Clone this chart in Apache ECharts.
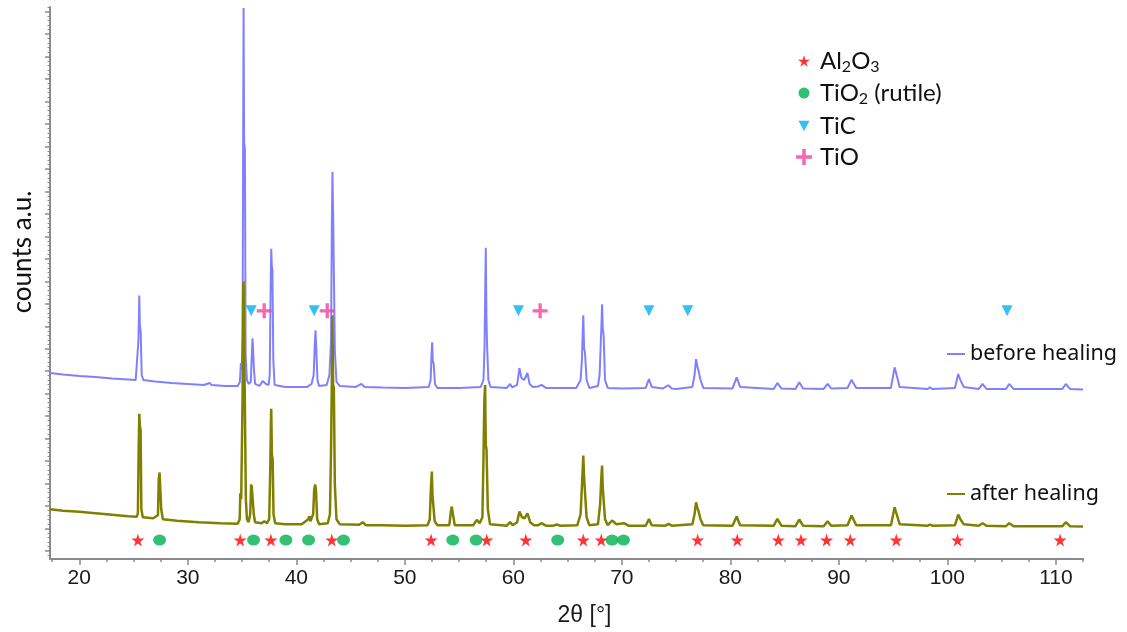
<!DOCTYPE html>
<html>
<head>
<meta charset="utf-8">
<script src="https://cdn.jsdelivr.net/npm/echarts@6/dist/echarts.min.js"></script>
<style>
  html, body { margin: 0; padding: 0; background: #fff; }
  #chart { width: 1127px; height: 632px; }
</style>
</head>
<body>
<div id="chart"></div>
<script>
// x tick labels (2theta, degrees)
const majorX = [20, 30, 40, 50, 60, 70, 80, 90, 100, 110]

// before healing, [2theta, counts a.u.]
const beforeHealing = [
  [17.3, 187], [18.5, 185.5], [20, 184], [21.5, 183], [23, 181.5], [24.5, 180.5], [25.2, 180],
  [25.38, 182], [25.45, 220], [25.53, 265], [25.58, 235], [25.66, 228], [25.75, 185], [25.9, 180],
  [27, 178.5], [28.5, 177], [30, 176], [31.5, 175], [32.0, 177], [32.2, 175], [33.5, 174], [34.6, 174],
  [34.8, 178], [34.89, 197], [34.98, 190],
  [35.05, 230], [35.1, 419], [35.14, 554], [35.19, 419], [35.26, 412], [35.33, 205], [35.45, 180], [35.6, 176],
  [35.8, 178], [35.9, 205], [35.96, 222], [36.02, 210], [36.1, 190], [36.2, 176],
  [36.6, 174], [36.9, 179], [37.05, 180], [37.2, 176], [37.45, 175],
  [37.55, 185], [37.62, 260], [37.69, 312], [37.74, 295], [37.8, 290], [37.88, 200], [38.0, 175],
  [39, 173], [40, 173], [41.0, 173], [41.4, 176],
  [41.6, 185], [41.7, 215], [41.77, 230], [41.84, 212], [41.95, 180], [42.1, 174],
  [42.8, 175], [43.05, 185],
  [43.2, 220], [43.28, 342], [43.33, 389], [43.4, 342], [43.47, 340], [43.55, 210], [43.7, 178], [44.0, 174],
  [45.5, 173], [46.0, 176], [46.13, 177], [46.3, 173], [48, 172.5], [50, 172], [52.2, 173],
  [52.38, 180], [52.46, 205], [52.52, 218], [52.58, 199], [52.66, 196], [52.78, 176], [53, 172],
  [55, 172], [57.0, 173], [57.25, 180],
  [57.35, 215], [57.42, 280], [57.46, 313], [57.52, 245], [57.58, 215], [57.7, 180], [57.9, 173],
  [59.4, 172], [59.7, 176], [59.9, 172.5],
  [60.35, 175], [60.56, 192], [60.75, 182], [61.0, 180], [61.3, 187], [61.5, 176], [61.8, 173],
  [62.3, 173.5], [62.6, 175], [63.0, 172], [65.8, 172], [66.2, 180],
  [66.32, 200], [66.4, 230], [66.45, 245], [66.52, 212], [66.6, 208], [66.75, 180], [67.0, 172],
  [67.8, 174],
  [67.95, 185], [68.05, 215], [68.12, 235], [68.18, 256], [68.24, 232], [68.32, 225], [68.45, 180], [68.7, 172],
  [70, 171.5], [72.2, 172], [72.5, 181], [72.75, 173], [73.8, 171.5], [74.28, 174.7], [74.6, 171.5], [75.0, 171], [76.5, 173],
  [76.7, 185], [76.84, 201], [76.95, 194], [77.05, 190], [77.25, 180], [77.5, 172],
  [80.2, 171.5], [80.58, 182.7], [80.9, 173], [84.0, 171], [84.33, 177], [84.7, 171.5],
  [86.0, 171], [86.35, 177.7], [86.7, 171.5], [88.6, 171], [88.96, 176], [89.3, 171.5],
  [90.8, 172], [91.17, 180.3], [91.6, 172], [94.8, 172], [95.14, 192.7], [95.3, 186], [95.6, 173],
  [98.2, 171], [98.39, 172.7], [98.6, 171], [100.7, 172], [101.0, 186], [101.2, 180], [101.5, 173],
  [102.9, 171], [103.24, 176], [103.6, 171], [105.4, 171], [105.7, 176], [106.1, 171],
  [110.6, 171], [110.92, 176], [111.3, 171], [112.5, 170.5]
]

// after healing, [2theta, counts a.u.]
const afterHealing = [
  [17.3, 50], [18.5, 48.5], [20, 47.5], [21.5, 46], [23, 44.5], [24.5, 43], [25.3, 42.5],
  [25.4, 46], [25.47, 110], [25.53, 146], [25.58, 134], [25.65, 130], [25.72, 50], [25.85, 42],
  [26.8, 41], [27.25, 44], [27.32, 80], [27.4, 87], [27.47, 85], [27.55, 50], [27.7, 40],
  [29, 38.5], [31, 37], [33, 36], [34.6, 35.5],
  [34.78, 40], [34.84, 66], [34.92, 60],
  [35.05, 165], [35.1, 260], [35.14, 279], [35.19, 220], [35.25, 165], [35.35, 60], [35.45, 40], [35.6, 37],
  [35.75, 45], [35.84, 75], [35.9, 72], [35.98, 71], [36.08, 45], [36.2, 37],
  [36.8, 36], [37.05, 38], [37.3, 36], [37.5, 40],
  [37.6, 90], [37.66, 140], [37.69, 151], [37.75, 105], [37.82, 100], [37.9, 45], [38.05, 36],
  [39, 35], [40.5, 35], [41.1, 40], [41.2, 43], [41.3, 38], [41.55, 45],
  [41.65, 70], [41.74, 75], [41.82, 68], [41.92, 40], [42.1, 35],
  [42.9, 36], [43.1, 45],
  [43.2, 110], [43.27, 175], [43.33, 245], [43.39, 175], [43.46, 172], [43.55, 75], [43.7, 40], [44.0, 35],
  [45.8, 34.5], [46.13, 37], [46.4, 34], [48, 34], [50, 33.5], [52.1, 34], [52.3, 40],
  [52.4, 70], [52.49, 88], [52.55, 64], [52.62, 62], [52.75, 38], [53, 34],
  [54.1, 34], [54.25, 48], [54.33, 52.7], [54.42, 46], [54.6, 34],
  [56.3, 34], [56.63, 39.3], [56.9, 36], [57.15, 42],
  [57.25, 102], [57.33, 160], [57.4, 175], [57.46, 115], [57.53, 110], [57.65, 50], [57.85, 35],
  [59.4, 33.5], [59.7, 37], [59.95, 34], [60.35, 37], [60.56, 47.7], [60.8, 42], [61.05, 41], [61.3, 46], [61.55, 37], [61.9, 34],
  [62.3, 34], [62.6, 36], [63, 33.5], [63.7, 33.5], [64.0, 34.7], [64.3, 33.5], [65.9, 34], [66.2, 45],
  [66.35, 80], [66.45, 104], [66.52, 82], [66.6, 80], [66.75, 42], [67.0, 34],
  [67.8, 35],
  [68.0, 55], [68.1, 80], [68.18, 94], [68.24, 72], [68.32, 70], [68.45, 40], [68.7, 34],
  [69.1, 38.7], [69.5, 35], [70.2, 36], [70.6, 33.5], [72.2, 33.5], [72.5, 40.3], [72.75, 34],
  [74.0, 33.5], [74.3, 35.3], [74.6, 33.5], [76.5, 35],
  [76.7, 45], [76.84, 57], [76.95, 52], [77.05, 48.7], [77.25, 40], [77.5, 34],
  [80.2, 33.5], [80.58, 42.7], [80.9, 34], [84.0, 33.5], [84.33, 40.3], [84.7, 33.5],
  [86.0, 33], [86.35, 39.7], [86.7, 33.5], [88.6, 33], [88.96, 38], [89.3, 33.5],
  [90.8, 34], [91.17, 43.7], [91.6, 34], [94.8, 34], [95.14, 52], [95.3, 46], [95.6, 35],
  [98.2, 33.5], [98.39, 34.7], [98.6, 33.5], [100.7, 34], [101.0, 44.7], [101.2, 40], [101.5, 35],
  [102.9, 33.5], [103.24, 36], [103.6, 33.5], [105.4, 33], [105.7, 36], [106.1, 33],
  [110.6, 33], [110.92, 37], [111.3, 33], [112.5, 32.7]
]

// phase reflections (2theta) and the height of their marker row
const al2o3Pos = [25.4, 34.83, 37.66, 43.27, 52.42, 57.55, 61.15, 66.45, 68.1, 76.99, 80.64, 84.42, 86.51, 88.87, 91.05, 95.29, 100.94, 110.39]
const tio2Pos = [27.4, 36.06, 39.04, 41.13, 44.35, 54.42, 56.57, 64.09, 69.1, 70.15]
const ticPos = [35.84, 41.65, 60.47, 72.5, 76.07, 105.5]
const tioPos = [37.04, 42.85, 62.47]
const lowRow = 19
const highRow = 249.5

const STAR = 'path://M50,0L61,35L98,35L68,57L79,91L50,70L21,91L32,57L2,35L39,35Z'
const PLUS = 'path://M39,0H61V39H100V61H61V100H39V61H0V39H39Z'
const TRI_DOWN = 'path://M0,0H100L50,95Z'

const axisGrey = '#8a8a8a'
const labelFont = 'Lato'

// tick positions (decoration only, axis has no labels)
const yMajor = []
const yMinor = []
for (let v = 8; v < 555; v += 22.6) yMajor.push(v)
for (let v = 3.48; v < 555; v += 4.52) {
  if (!yMajor.some(m => Math.abs(m - v) < 0.5)) yMinor.push(v)
}
const xMinor = []
for (let v = 17.5; v <= 112.5; v += 2.5) {
  if (v % 10 !== 0) xMinor.push(v)
}

const rich = {
  n: { fontSize: 24, lineHeight: 28, fontFamily: labelFont, color: '#111' },
  s: { fontSize: 16, lineHeight: 16, fontFamily: labelFont, color: '#111', verticalAlign: 'bottom' },
}
const legendText = {
  'Al2O3': '{n|Al}{s|2}{n|O}{s|3}',
  'TiO2 (rutile)': '{n|TiO}{s|2}{n| (rutile)}',
  'TiC': '{n|TiC}',
  'TiO': '{n|TiO}',
}

function phaseLegend(name, icon, top, w, h) {
  return {
    data: [{ name, icon }],
    orient: 'vertical',
    left: 804 - w / 2,
    top,
    itemWidth: w,
    itemHeight: h,
    padding: 0,
    formatter: n => legendText[n],
    textStyle: { rich, padding: [0, 0, 0, 11 - w / 2] },
  }
}

function lineLegend(name, top) {
  return {
    data: [{ name, icon: 'rect' }],
    left: 947,
    top,
    itemWidth: 18,
    itemHeight: 2,
    padding: 0,
    textStyle: { fontFamily: 'Noto Sans', fontSize: 21.5, color: '#111' },
  }
}

const chart = echarts.init(document.getElementById('chart'), null, { renderer: 'canvas' })

chart.setOption({
  animation: false,
  backgroundColor: '#fff',
  grid: { left: 50, right: 44, top: 7, bottom: 70 },
  legend: [
    phaseLegend('Al2O3', STAR, 49, 12, 12),
    phaseLegend('TiO2 (rutile)', 'circle', 81, 11, 11),
    phaseLegend('TiC', TRI_DOWN, 114, 11, 12),
    phaseLegend('TiO', PLUS, 145, 16, 16),
    lineLegend('before healing', 343),
    lineLegend('after healing', 483),
  ],
  xAxis: [
    {
      type: 'value', min: 17.3, max: 112.5,
      axisLine: { onZero: false, lineStyle: { color: axisGrey, width: 2 } },
      axisTick: { customValues: majorX, length: 6, lineStyle: { color: axisGrey, width: 1.5 } },
      axisLabel: { customValues: majorX, fontSize: 21, color: '#1a1a1a', fontFamily: 'Liberation Sans', margin: 9 },
      splitLine: { show: false },
      name: '2θ [°]', nameLocation: 'middle', nameGap: 45,
      nameTextStyle: { fontSize: 23, color: '#1a1a1a', fontFamily: 'Liberation Sans', padding: [0, 0, 0, 36] },
    },
    {
      type: 'value', min: 17.3, max: 112.5, position: 'bottom',
      axisLine: { show: false },
      axisTick: { customValues: xMinor, length: 3, lineStyle: { color: axisGrey, width: 1.5 } },
      axisLabel: { show: false },
      splitLine: { show: false },
    },
  ],
  yAxis: [
    {
      type: 'value', min: 0, max: 555,
      axisLine: { show: true, onZero: false, lineStyle: { color: axisGrey, width: 2 } },
      axisTick: { show: true, customValues: yMajor, length: 5, lineStyle: { color: axisGrey, width: 1.5 } },
      axisLabel: { show: false },
      splitLine: { show: false },
    },
    {
      type: 'value', min: 0, max: 555, position: 'left',
      axisLine: { show: false },
      axisTick: { show: true, customValues: yMinor, length: 2.5, lineStyle: { color: axisGrey, width: 1 } },
      axisLabel: { show: false },
      splitLine: { show: false },
    },
  ],
  graphic: [
    {
      type: 'text', x: 23, y: 252, rotation: Math.PI / 2,
      style: { text: 'counts a.u.', fontSize: 26, fontFamily: labelFont, fill: '#111', align: 'center', verticalAlign: 'middle' },
    },
  ],
  series: [
    {
      name: 'before healing', type: 'line', data: beforeHealing, showSymbol: false,
      color: '#8080ff', lineStyle: { width: 2, color: '#8080ff' }, z: 2,
    },
    {
      name: 'after healing', type: 'line', data: afterHealing, showSymbol: false,
      color: '#808000', lineStyle: { width: 2.5, color: '#808000' }, z: 3,
    },
    {
      name: 'Al2O3', type: 'scatter', symbol: STAR, symbolSize: 13, z: 5,
      color: '#ff0000', data: al2o3Pos.map(x => [x, lowRow]),
    },
    {
      name: 'TiO2 (rutile)', type: 'scatter', symbol: 'circle', symbolSize: [13, 11], z: 5,
      color: '#00b050', data: tio2Pos.map(x => [x, lowRow]),
    },
    {
      name: 'TiC', type: 'scatter', symbol: TRI_DOWN, symbolSize: [11, 11], z: 5,
      color: '#00b0f0', data: ticPos.map(x => [x, highRow]),
    },
    {
      name: 'TiO', type: 'scatter', symbol: PLUS, symbolSize: 15, z: 5,
      color: '#f0449a', data: tioPos.map(x => [x, highRow]),
    },
  ],
})
</script>
</body>
</html>
